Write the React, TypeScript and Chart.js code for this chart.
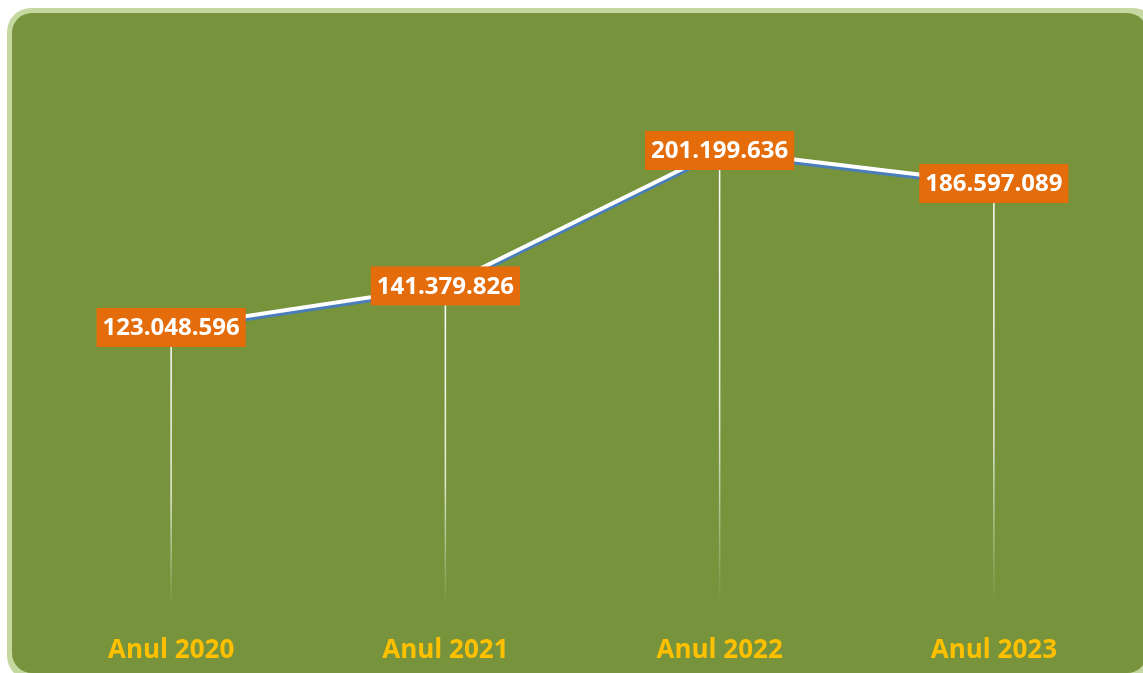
import React, { useEffect, useRef } from "react";
import { Chart, registerables } from "chart.js";

Chart.register(...registerables);

const categories = ["Anul 2020", "Anul 2021", "Anul 2022", "Anul 2023"];
const values = [123048596, 141379826, 201199636, 186597089];
const valueLabels = ["123.048.596", "141.379.826", "201.199.636", "186.597.089"];

const FONT = "'Open Sans', 'Noto Sans', sans-serif";

const backgroundPlugin = {
  id: "bgBox",
  beforeDraw(chart: any) {
    const ctx = chart.ctx;
    ctx.save();
    ctx.fillStyle = "#ffffff";
    ctx.fillRect(0, 0, chart.width, chart.height);
    ctx.fillStyle = "#c4d8a0";
    ctx.beginPath();
    ctx.roundRect(7, 8, 1150, 672, 24);
    ctx.fill();
    ctx.fillStyle = "#77933c";
    ctx.beginPath();
    ctx.roundRect(12, 13, 1135, 660, 20);
    ctx.fill();
    ctx.restore();
  },
};

const dropLinesPlugin = {
  id: "dropLines",
  beforeDatasetsDraw(chart: any) {
    const ctx = chart.ctx;
    const meta = chart.getDatasetMeta(0);
    const bottom = chart.chartArea.bottom;
    ctx.save();
    meta.data.forEach((pt: any) => {
      const g = ctx.createLinearGradient(0, pt.y, 0, bottom);
      g.addColorStop(0, "rgba(255,255,255,1)");
      g.addColorStop(0.6, "rgba(255,255,255,0.8)");
      g.addColorStop(1, "rgba(255,255,255,0)");
      ctx.strokeStyle = g;
      ctx.lineWidth = 1.5;
      ctx.beginPath();
      ctx.moveTo(pt.x, pt.y);
      ctx.lineTo(pt.x, bottom);
      ctx.stroke();
    });
    ctx.restore();
  },
};

const shadowPlugin = {
  id: "lineShadow",
  beforeDatasetDraw(chart: any) {
    const ctx = chart.ctx;
    ctx.save();
    ctx.shadowColor = "#4a7ebb";
    ctx.shadowOffsetX = 0;
    ctx.shadowOffsetY = 3;
    ctx.shadowBlur = 0;
  },
  afterDatasetDraw(chart: any) {
    chart.ctx.restore();
  },
};

const labelsPlugin = {
  id: "valueLabels",
  afterDatasetsDraw(chart: any) {
    const ctx = chart.ctx;
    const meta = chart.getDatasetMeta(0);
    ctx.save();
    ctx.font = `bold 24px ${FONT}`;
    ctx.textAlign = "center";
    ctx.textBaseline = "middle";
    meta.data.forEach((pt: any, i: number) => {
      const text = valueLabels[i];
      const w = ctx.measureText(text).width + 12;
      const h = 39;
      ctx.fillStyle = "#e46c0a";
      ctx.fillRect(pt.x - w / 2, pt.y - h / 2, w, h);
      ctx.fillStyle = "#ffffff";
      ctx.fillText(text, pt.x, pt.y + 1);
    });
    ctx.restore();
  },
};

export default function App() {
  const ref = useRef<HTMLCanvasElement>(null);
  useEffect(() => {
    document.body.style.margin = "0";
    const chart = new Chart(ref.current!, {
      type: "line",
      data: {
        labels: categories,
        datasets: [
          {
            data: values,
            borderColor: "#ffffff",
            borderWidth: 4,
            pointRadius: 0,
            tension: 0,
            fill: false,
          },
        ],
      },
      options: {
        animation: false,
        responsive: true,
        maintainAspectRatio: false,
        layout: { padding: { left: 34, right: 12, top: 40, bottom: 11 } },
        plugins: { legend: { display: false }, tooltip: { enabled: false } },
        scales: {
          x: {
            offset: true,
            grid: { display: false, drawTicks: false },
            border: { display: false },
            ticks: {
              color: "#ffc000",
              font: { family: FONT, size: 26, weight: "bold" },
              padding: 29,
              maxRotation: 0,
            },
            afterFit(scale: any) {
              scale.height = 56;
            },
          },
          y: {
            display: false,
            min: 0,
            max: 250000000,
          },
        },
      },
      plugins: [backgroundPlugin, dropLinesPlugin, shadowPlugin, labelsPlugin],
    });
    return () => chart.destroy();
  }, []);
  return (
    <div style={{ width: 1143, height: 673, position: "relative" }}>
      <canvas ref={ref} />
    </div>
  );
}
